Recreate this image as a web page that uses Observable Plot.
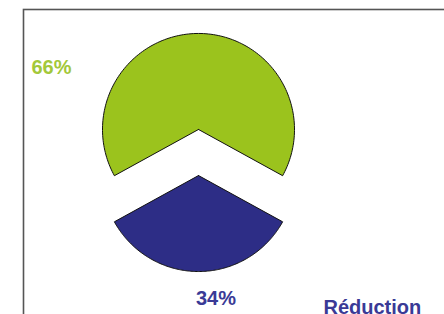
<!DOCTYPE html>
<html>
<head>
<meta charset="utf-8">
<script src="https://cdn.jsdelivr.net/npm/d3@7"></script>
<script src="https://cdn.jsdelivr.net/npm/@observablehq/plot@0.6"></script>
<style>
  html, body { margin: 0; padding: 0; background: #fff; overflow: hidden; width: 444px; height: 314px; }
  svg { max-width: none !important; }
</style>
</head>
<body>
<div id="chart"></div>
<script>
// Data
const categories = ["Autre", "Réduction"];
const values = [66, 34];
const valueLabels = ["66%", "34%"];
const legendLabels = ["Réduction"];
const colors = ["#9BC31D", "#2D2D86"];

// Pie layout (navy slice centred at the bottom)
const total = d3.sum(values);
const startAngle = -Math.PI * values[0] / total;
const pie = d3.pie().sort(null).startAngle(startAngle).endAngle(startAngle + 2 * Math.PI);
const arcs = pie(values);
const explode = 0.24;

const slices = arcs.map((a, i) => {
  const mid = (a.startAngle + a.endAngle) / 2;
  const cx = explode * Math.sin(mid), cy = explode * Math.cos(mid);
  const n = 160;
  const pts = [{x: cx, y: cy}];
  for (let k = 0; k <= n; k++) {
    const t = a.startAngle + (a.endAngle - a.startAngle) * k / n;
    pts.push({x: cx + Math.sin(t), y: cy + Math.cos(t)});
  }
  pts.push({x: cx, y: cy});
  return {category: categories[i], color: colors[i], points: pts};
});

const font = "'Liberation Sans', Arial, sans-serif";

const chart = Plot.plot({
  width: 452,
  height: 322,
  marginLeft: 23,
  marginTop: 9,
  marginRight: 0,
  marginBottom: 0,
  style: {fontFamily: font, background: "#fff", maxWidth: "none", overflow: "hidden"},
  x: {domain: [-1, 1], range: [102, 294], axis: null},
  y: {domain: [-1, 1], range: [248, 56], axis: null},
  marks: [
    Plot.frame({stroke: "#555", strokeWidth: 1.6}),
    ...slices.map(s => Plot.line(s.points, {
      x: "x", y: "y", fill: s.color, stroke: "#111", strokeWidth: 1, strokeLinejoin: "miter", curve: "linear"
    })),
    Plot.text([valueLabels[0]], {
      text: d => d, frameAnchor: "top-left", textAnchor: "start", lineAnchor: "top",
      dx: 8, dy: 50, fontSize: 20, fontWeight: "bold", fill: "#A3C83A"
    }),
    Plot.text([valueLabels[1]], {
      text: d => d, frameAnchor: "top-left", textAnchor: "middle", lineAnchor: "top",
      dx: 192.5, dy: 281, fontSize: 20, fontWeight: "bold", fill: "#3A3A96"
    }),
    Plot.text(legendLabels, {
      text: d => d, frameAnchor: "top-left", textAnchor: "start", lineAnchor: "top",
      dx: 300, dy: 290, fontSize: 20, fontWeight: "bold", fill: "#3A3A96"
    })
  ]
});
document.getElementById("chart").appendChild(chart);
</script>
</body>
</html>
